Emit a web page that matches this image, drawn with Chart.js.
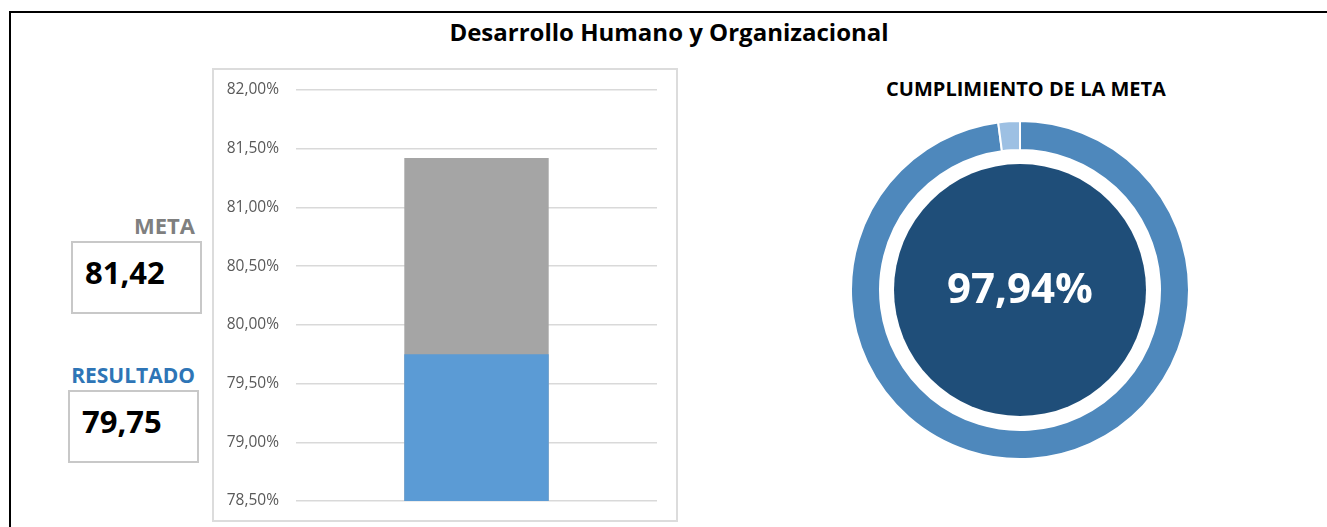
<!DOCTYPE html>
<html>
<head>
<meta charset="utf-8">
<script src="https://cdn.jsdelivr.net/npm/chart.js@4.4.1/dist/chart.umd.min.js"></script>
<style>
  body { margin: 0; background: #fff; font-family: "Open Sans", Lato, sans-serif; }
  #page { position: relative; width: 1327px; height: 527px; overflow: hidden; }
  .frame { position: absolute; left: 9px; top: 11px; width: 1330px; height: 530px;
           border-top: 2.5px solid #000; border-left: 2.5px solid #000; }
  .title { position: absolute; left: 0; width: 1338px; top: 15px; text-align: center;
           font-weight: bold; font-size: 24px; color: #000; }
  .lbl { position: absolute; font-weight: bold; font-size: 21px; text-align: right; }
  .box { position: absolute; border: 2px solid #C8C8C8; box-sizing: border-box; }
  .val { position: absolute; font-weight: bold; font-size: 31px; color: #000; }
  #barBox { position: absolute; left: 212px; top: 68px; width: 466px; height: 454px;
            border: 2px solid #DCDCDC; box-sizing: border-box; }
  #barBox canvas { position: absolute; left: 0; top: 0; }
  .sub { position: absolute; left: 870px; width: 312px; top: 75px; text-align: center;
         font-weight: bold; font-size: 20px; color: #000; }
  #pieWrap { position: absolute; left: 850px; top: 120px; width: 340px; height: 340px; }
</style>
</head>
<body>
<div id="page">
  <div class="frame"></div>
  <div class="title">Desarrollo Humano y Organizacional</div>

  <div class="lbl" style="left:40px; width:155px; top:210px; font-size:22px; color:#7F7F7F;">META</div>
  <div class="box" style="left:71px; top:241px; width:131px; height:73px;"></div>
  <div class="val" style="left:85px; top:251px;" id="metaVal"></div>

  <div class="lbl" style="left:20px; width:175px; top:361px; color:#2E75B6;">RESULTADO</div>
  <div class="box" style="left:68px; top:390px; width:131px; height:73px;"></div>
  <div class="val" style="left:82px; top:400px;" id="resVal"></div>

  <div id="barBox"><canvas id="barChart" width="462" height="450"></canvas></div>

  <div class="sub">CUMPLIMIENTO DE LA META</div>
  <div id="pieWrap"><canvas id="pieChart" width="340" height="340"></canvas></div>
</div>

<script>
  // data
  const categories = ["Desarrollo Humano y Organizacional"];
  const metaValues = [81.42];
  const resultValues = [79.75];
  const cumplimiento = [97.94, 2.06];
  const yTicks = [78.5, 79, 79.5, 80, 80.5, 81, 81.5, 82];

  const fmt = (v, d) => v.toFixed(d).replace(".", ",");

  document.getElementById("metaVal").innerText = fmt(metaValues[0], 2);
  document.getElementById("resVal").innerText = fmt(resultValues[0], 2);

  // bar chart: result drawn over meta (index 0 is drawn last)
  new Chart(document.getElementById("barChart"), {
    type: "bar",
    data: {
      labels: categories,
      datasets: [
        { label: "Resultado", data: resultValues, backgroundColor: "#5B9BD5" },
        { label: "Meta", data: metaValues, backgroundColor: "#A5A5A5" },
      ],
    },
    options: {
      responsive: false,
      animation: false,
      layout: { padding: { top: 20, bottom: 19, right: 19, left: 0 } },
      datasets: { bar: { grouped: false, barPercentage: 0.4, categoryPercentage: 1 } },
      plugins: { legend: { display: false }, tooltip: { enabled: false } },
      scales: {
        x: { display: false },
        y: {
          min: yTicks[0],
          max: yTicks[yTicks.length - 1],
          afterBuildTicks: (s) => { s.ticks = yTicks.map((v) => ({ value: v })); },
          afterFit: (s) => {
            s.width = 82;
            s.paddingTop = 0;
            s.paddingBottom = 0;
          },
          border: { display: false },
          grid: { color: "#D9D9D9", lineWidth: 1.5, drawTicks: false },
          ticks: {
            padding: 17,
            color: "#595959",
            font: { family: "Open Sans", size: 15.5 },
            callback: (v) => fmt(v, 2) + "%",
          },
        },
      },
    },
  });

  // inner disc + percentage text
  const centerPlugin = {
    id: "centerDisc",
    beforeDatasetsDraw(chart) {
      const arc = chart.getDatasetMeta(0).data[0];
      const ctx = chart.ctx;
      ctx.save();
      ctx.beginPath();
      ctx.arc(arc.x, arc.y, 126, 0, Math.PI * 2);
      ctx.fillStyle = "#1F4E79";
      ctx.fill();
      ctx.fillStyle = "#fff";
      ctx.font = "bold 42px 'Open Sans'";
      ctx.textAlign = "center";
      ctx.textBaseline = "middle";
      ctx.fillText(fmt(cumplimiento[0], 2) + "%", arc.x, arc.y + 1);
      ctx.restore();
    },
  };

  new Chart(document.getElementById("pieChart"), {
    type: "doughnut",
    data: {
      labels: ["Cumplimiento", "Faltante"],
      datasets: [{
        data: cumplimiento,
        backgroundColor: ["#4E88BC", "#9DC0E3"],
        borderColor: "#fff",
        borderWidth: 2,
      }],
    },
    options: {
      responsive: false,
      animation: false,
      radius: 169,
      cutout: 140,
      plugins: { legend: { display: false }, tooltip: { enabled: false } },
    },
    plugins: [centerPlugin],
  });
</script>
</body>
</html>
